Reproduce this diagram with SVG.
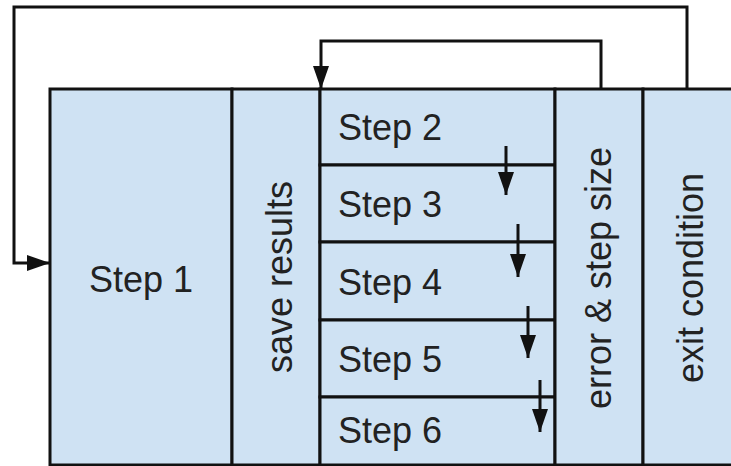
<svg xmlns="http://www.w3.org/2000/svg" width="731" height="466" viewBox="0 0 731 466">
  <style>
    .box { fill: #cfe2f3; stroke: #111; stroke-width: 3; }
    .lbl { font-family: "Liberation Sans", Arial, sans-serif; font-size: 36px; fill: #222; }
    .conn { fill: none; stroke: #111; stroke-width: 3; }
  </style>
  <defs>
    <marker id="arr" markerUnits="userSpaceOnUse" markerWidth="24" markerHeight="18" viewBox="0 0 24 18" refX="23" refY="9" orient="auto">
      <path d="M0,1 L23,9 L0,17 Z" fill="#111"/>
    </marker>
  </defs>
  <rect x="0" y="0" width="731" height="466" fill="#ffffff"/>
  <g id="step1">
    <rect class="box" x="50" y="89" width="182" height="376"/>
    <text class="lbl" x="141" y="292" text-anchor="middle">Step 1</text>
  </g>
  <g id="save-results">
    <rect class="box" x="232" y="89" width="88" height="376"/>
    <text class="lbl" transform="translate(292,277) rotate(-90)" text-anchor="middle">save results</text>
  </g>
  <g id="step2">
    <rect class="box" x="320" y="89" width="235" height="76"/>
    <text class="lbl" x="338" y="140">Step 2</text>
  </g>
  <g id="step3">
    <rect class="box" x="320" y="165" width="235" height="77"/>
    <text class="lbl" x="338" y="217">Step 3</text>
  </g>
  <g id="step4">
    <rect class="box" x="320" y="242" width="235" height="78"/>
    <text class="lbl" x="338" y="295">Step 4</text>
  </g>
  <g id="step5">
    <rect class="box" x="320" y="320" width="235" height="77"/>
    <text class="lbl" x="338" y="372">Step 5</text>
  </g>
  <g id="step6">
    <rect class="box" x="320" y="397" width="235" height="68"/>
    <text class="lbl" x="338" y="443">Step 6</text>
  </g>
  <g id="error-step-size">
    <rect class="box" x="555" y="89" width="88" height="376"/>
    <text class="lbl" transform="translate(611,278) rotate(-90)" text-anchor="middle">error &amp; step size</text>
  </g>
  <g id="exit-condition">
    <rect class="box" x="643" y="89" width="90" height="376"/>
    <text class="lbl" transform="translate(703,278) rotate(-90)" text-anchor="middle">exit condition</text>
  </g>
  <g id="connectors">
    <polyline class="conn" points="687,89 687,7 14,7 14,263 50,263" marker-end="url(#arr)"/>
    <polyline class="conn" points="601,89 601,41 321,41 321,89" marker-end="url(#arr)"/>
    <line class="conn" x1="506" y1="146" x2="506" y2="195" marker-end="url(#arr)"/>
    <line class="conn" x1="518" y1="224" x2="518" y2="277" marker-end="url(#arr)"/>
    <line class="conn" x1="528" y1="306" x2="528" y2="358" marker-end="url(#arr)"/>
    <line class="conn" x1="540" y1="380" x2="540" y2="432" marker-end="url(#arr)"/>
  </g>
</svg>
